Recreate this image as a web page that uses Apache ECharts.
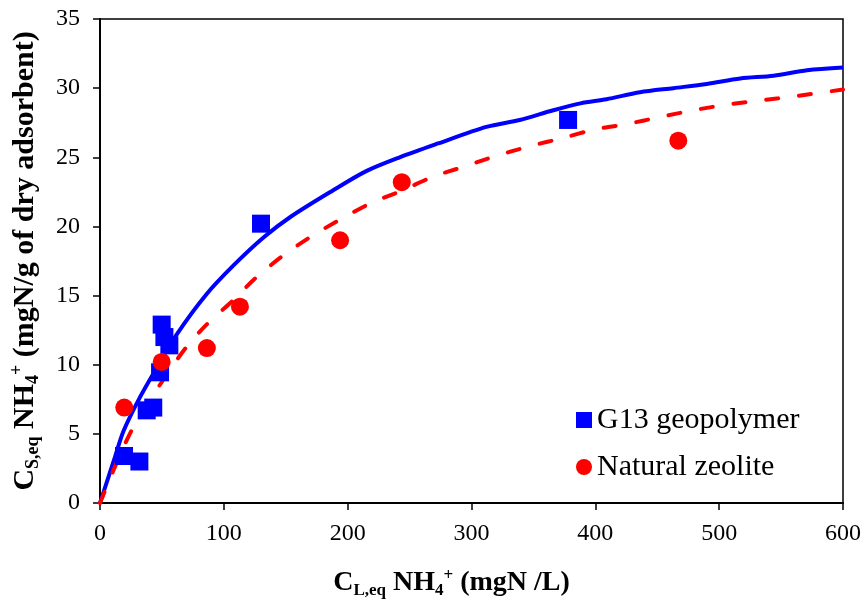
<!DOCTYPE html>
<html>
<head>
<meta charset="utf-8">
<script src="https://cdn.jsdelivr.net/npm/echarts@6/dist/echarts.min.js"></script>
<style>html,body{margin:0;padding:0;background:#fff;}#c{width:864px;height:608px;}</style>
</head>
<body>
<div id="c"></div>
<script>
// G13 geopolymer measured points
const g13X = [19.4, 31.8, 37.7, 43, 48.5, 49.8, 52, 56, 130, 378];
const g13Y = [3.4, 3.0, 6.7, 6.9, 9.45, 12.9, 12.0, 11.4, 20.2, 27.7];
// Natural zeolite measured points
const zeoX = [19.6, 49.8, 86.3, 113, 193.9, 243.7, 467];
const zeoY = [6.9, 10.2, 11.2, 14.2, 19.0, 23.2, 26.2];
// G13 fitted curve
const g13FitX = [0, 12, 19, 32, 46, 62, 86, 108, 132, 154, 188, 215, 242, 273, 312, 339, 366, 388, 409, 436, 463, 490, 517, 544, 571, 600];
const g13FitY = [0, 3.3, 5.2, 7.6, 9.8, 12.2, 15.1, 17.2, 19.2, 20.7, 22.6, 24.0, 25.0, 26.0, 27.2, 27.7, 28.4, 28.9, 29.2, 29.7, 30.0, 30.3, 30.7, 30.9, 31.3, 31.5];
// Natural zeolite fitted curve
const zeoFitX = [0, 12, 27, 54, 70, 86, 108, 126, 148, 171, 194, 219, 244, 269, 293, 320, 347, 374, 399, 425, 452, 479, 506, 533, 560, 600];
const zeoFitY = [0, 2.6, 5.5, 9.3, 11.3, 12.9, 14.7, 16.3, 17.9, 19.3, 20.5, 21.7, 22.6, 23.6, 24.3, 25.1, 25.8, 26.4, 27.0, 27.4, 27.9, 28.4, 28.8, 29.1, 29.4, 29.9];
// axis settings
const xTicks = [0, 100, 200, 300, 400, 500, 600];
const yTicks = [0, 5, 10, 15, 20, 25, 30, 35];
const seriesNames = ['G13 geopolymer', 'Natural zeolite'];

const zip = (a, b) => a.map((v, i) => [v, b[i]]);
const FONT = '"Liberation Serif", "Times New Roman", serif';
function titleRich(size) {
  const sub = Math.round(size * 0.6);
  return {
    b: {fontFamily: FONT, fontWeight: 'bold', fontSize: size, color: '#000', lineHeight: size + 4, verticalAlign: 'middle'},
    s: {fontFamily: FONT, fontWeight: 'bold', fontSize: sub, color: '#000', lineHeight: sub, verticalAlign: 'bottom'},
    p: {fontFamily: FONT, fontWeight: 'bold', fontSize: sub, color: '#000', lineHeight: sub, verticalAlign: 'top'}
  };
}

const chart = echarts.init(document.getElementById('c'), null, {renderer: 'canvas'});
chart.setOption({
  animation: false,
  backgroundColor: '#fff',
  grid: {left: 100, right: 21, top: 19, bottom: 105, containLabel: false, outerBoundsMode: 'none',
         show: true, borderColor: '#000', borderWidth: 1.5, backgroundColor: 'transparent'},
  legend: {
    data: seriesNames,
    orient: 'vertical',
    left: 571, top: 400,
    itemWidth: 16, itemHeight: 16, itemGap: 17,
    textStyle: {fontFamily: FONT, fontSize: 30, color: '#000'}
  },
  xAxis: {
    type: 'value', min: xTicks[0], max: xTicks[xTicks.length - 1], interval: 100,
    axisLine: {lineStyle: {color: '#000', width: 2}},
    axisTick: {inside: false, length: 7, lineStyle: {color: '#000', width: 1.5}},
    splitLine: {show: false},
    axisLabel: {fontFamily: FONT, fontSize: 24, color: '#000', margin: 19},
    name: '{b|C}{s|L,eq}{b| NH}{s|4}{p|+}{b| (mgN /L)}',
    nameLocation: 'middle', nameGap: 64,
    nameTextStyle: {rich: titleRich(28), padding: [0, 40, 0, 0]}
  },
  yAxis: {
    type: 'value', min: yTicks[0], max: yTicks[yTicks.length - 1], interval: 5,
    axisLine: {lineStyle: {color: '#000', width: 2}},
    axisTick: {inside: false, length: 7, lineStyle: {color: '#000', width: 1.5}},
    splitLine: {show: false},
    axisLabel: {fontFamily: FONT, fontSize: 24, color: '#000', margin: 20},
    name: '{b|C}{s|S,eq}{b| NH}{s|4}{p|+}{b| (mgN/g of dry adsorbent)}',
    nameLocation: 'middle', nameGap: 58, nameRotate: 90,
    nameTextStyle: {rich: titleRich(30)}
  },
  series: [
    {name: 'G13 fit', type: 'line', data: zip(g13FitX, g13FitY), showSymbol: false, smooth: 0.3,
     lineStyle: {color: '#0000FF', width: 4}, z: 2},
    {name: 'Zeolite fit', type: 'line', data: zip(zeoFitX, zeoFitY), showSymbol: false, smooth: 0.3,
     lineStyle: {color: '#FF0000', width: 4, type: [12, 21], cap: 'round'}, z: 2},
    {name: seriesNames[0], type: 'scatter', data: zip(g13X, g13Y), symbol: 'rect', symbolSize: 18,
     itemStyle: {color: '#0000FF', opacity: 1}, z: 3},
    {name: seriesNames[1], type: 'scatter', data: zip(zeoX, zeoY), symbol: 'circle', symbolSize: 18,
     itemStyle: {color: '#FF0000', opacity: 1}, z: 4}
  ]
});
</script>
</body>
</html>
